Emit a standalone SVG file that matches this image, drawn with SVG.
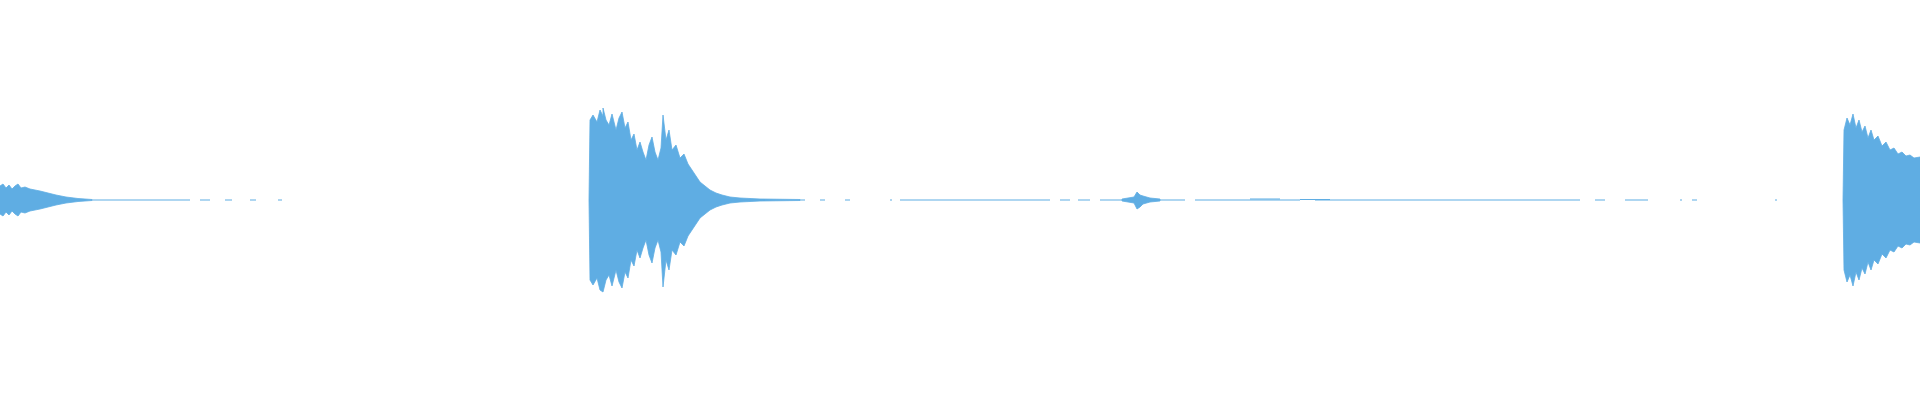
<svg xmlns="http://www.w3.org/2000/svg" width="1920" height="400" viewBox="0 0 1920 400">
<style>.w{fill:#5fade3;stroke:#5fade3;stroke-width:0.8}.l{stroke:#5fade3;stroke-width:1.2;fill:none}</style>
<rect width="1920" height="400" fill="#fff"/>
<g id="waveform">
<path class="w" d="M0,186 L3,184 L6,188 L9,185 L12,189 L15,186 L18,184 L21,188 L25,187 L30,189 L35,190 L40,191 L48,193 L56,195 L66,197 L78,198.5 L92,199.5 L92,200.5 L78,201.5 L66,203 L56,205 L48,207 L40,209 L35,210 L30,211 L25,213 L21,212 L18,216 L15,214 L12,211 L9,215 L6,212 L3,216 L0,214 Z"/>
<path class="w" d="M589,200 L590,120 L593,115 L597,122 L600,110 L603,116 L603,108 L606,120 L609,125 L612,114 L616,130 L619,118 L622,112 L625,128 L628,122 L631,140 L634,134 L637,150 L640,142 L643,152 L646,160 L649,145 L652,137 L655,152 L658,160 L661,148 L663,115 L666,140 L669,130 L672,150 L676,145 L680,158 L684,154 L688,164 L692,170 L696,176 L700,182 L705,186 L710,190 L716,193 L722,195 L730,197 L740,198 L760,199 L800,199.5 L800,200.5 L760,201 L740,202 L730,203 L722,205 L716,207 L710,210 L705,214 L700,218 L696,224 L692,230 L688,236 L684,246 L680,242 L676,255 L672,250 L669,270 L666,260 L663,287 L661,252 L658,240 L655,248 L652,263 L649,255 L646,240 L643,248 L640,258 L637,250 L634,266 L631,260 L628,278 L625,272 L622,288 L619,282 L616,270 L612,286 L609,275 L606,280 L603,292 L600,290 L597,278 L593,285 L590,280 Z"/>
<path class="w" d="M1843,200 L1844,130 L1847,118 L1850,125 L1853,114 L1856,128 L1859,120 L1862,132 L1865,126 L1868,138 L1871,130 L1874,140 L1878,136 L1882,146 L1886,142 L1890,150 L1894,148 L1898,154 L1902,152 L1906,156 L1910,155 L1914,158 L1920,157 L1920,243 L1914,242 L1910,245 L1906,244 L1902,248 L1898,246 L1894,252 L1890,250 L1886,258 L1882,254 L1878,264 L1874,260 L1871,270 L1868,262 L1865,274 L1862,268 L1859,280 L1856,272 L1853,286 L1850,275 L1847,282 L1844,270 Z"/>
<path class="w" d="M1122,199 L1128,198 L1134,197 L1137,192 L1140,195 L1143,196 L1150,198 L1160,199 L1160,201 L1150,202 L1143,204 L1140,207 L1137,209 L1134,203 L1128,202 L1122,201 Z"/>
<path class="l" d="M92,200H190 M200,200H210 M225,200H232 M250,200H256 M278,200H282 M800,200H805 M820,200H825 M845,200H850 M890,200H892 M900,200H1050 M1060,200H1070 M1078,200H1090 M1100,200H1122 M1160,200H1185 M1195,200H1300 M1315,200H1580 M1595,200H1605 M1625,200H1648 M1680,200H1682 M1692,200H1697 M1775,200H1777"/>
<path class="l" d="M1250,199H1280M1300,199.5H1330"/>
</g>
</svg>
